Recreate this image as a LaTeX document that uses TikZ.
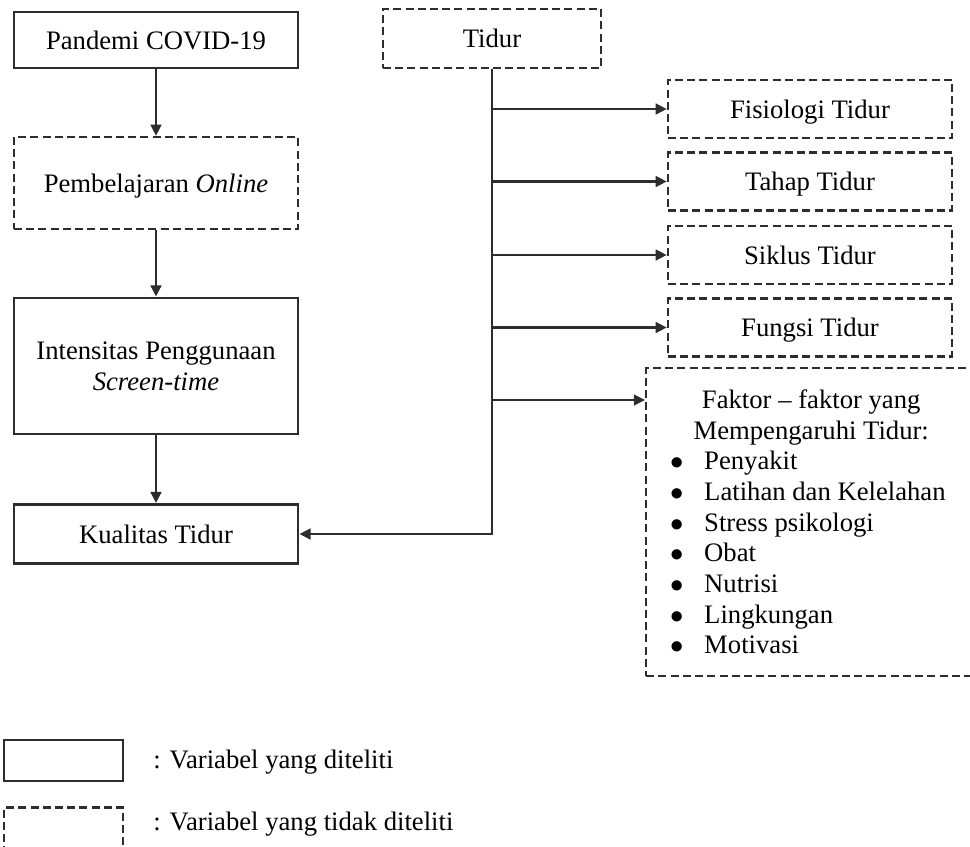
\documentclass[tikz,border=0pt]{standalone}
\usepackage{fontspec}
\setmainfont{Liberation Serif}
\usepackage{tikz}
\usetikzlibrary{arrows.meta, positioning}
\definecolor{linegray}{RGB}{45,45,45}
\newcommand{\unitpx}{0.45pt}
\newcommand{\bulletitem}[1]{\makebox[15.3pt][l]{$\bullet$}#1}

\tikzset{
  solidbox/.style={draw=linegray, line width=1.3pt, align=center, inner sep=0pt},
  dashedbox/.style={draw=linegray, line width=1.1pt, dash pattern=on 3.6pt off 1.9pt, align=center, inner sep=0pt},
  onerow/.style={text depth=0pt},
  arr/.style={draw=linegray, line width=1.1pt, -{Triangle[length=5pt, width=4.8pt]}}
}

\begin{document}
\begin{tikzpicture}[x=\unitpx, y=-\unitpx, font=\fontsize{12}{13.8}\selectfont]
    \useasboundingbox (0,0) rectangle (970,846);

    % Kolom kiri
    \node[solidbox, onerow, minimum width=284*\unitpx, minimum height=56*\unitpx] (pandemi) at (156,40) {Pandemi COVID-19};
    \node[dashedbox, onerow, minimum width=284*\unitpx, minimum height=92*\unitpx] (online) at (156,183) {Pembelajaran \textit{Online}};
    \node[solidbox, minimum width=284*\unitpx, minimum height=136*\unitpx] (intensitas) at (156,366) {Intensitas Penggunaan\\\textit{Screen-time}};
    \node[solidbox, onerow, minimum width=284*\unitpx, minimum height=59*\unitpx] (kualitas) at (156,534) {Kualitas Tidur};
    \draw[arr] (pandemi) -- (online);
    \draw[arr] (online) -- (intensitas);
    \draw[arr] (intensitas) -- (kualitas);

    % Tidur dan cabangnya
    \node[dashedbox, onerow, minimum width=218*\unitpx, minimum height=59*\unitpx] (tidur) at (492,38.5) {Tidur};
    \node[dashedbox, onerow, minimum width=284*\unitpx, minimum height=58*\unitpx] (fisiologi) at (810,109) {Fisiologi Tidur};
    \node[dashedbox, onerow, minimum width=284*\unitpx, minimum height=58*\unitpx] (tahap) at (810,181.5) {Tahap Tidur};
    \node[dashedbox, onerow, minimum width=284*\unitpx, minimum height=58*\unitpx] (siklus) at (810,255) {Siklus Tidur};
    \node[dashedbox, onerow, minimum width=284*\unitpx, minimum height=58*\unitpx] (fungsi) at (810,327.5) {Fungsi Tidur};

    % Faktor (kotak keluar dari tepi kanan)
    \node[dashedbox, anchor=west, minimum height=308*\unitpx, inner xsep=10.8pt] (faktor) at (645,522)
      {\parbox{126.9pt}{\centering Faktor -- faktor yang\\Mempengaruhi Tidur:\par
        \raggedright
        \bulletitem{Penyakit}\\
        \bulletitem{Latihan dan Kelelahan}\\
        \bulletitem{Stress psikologi}\\
        \bulletitem{Obat}\\
        \bulletitem{Nutrisi}\\
        \bulletitem{Lingkungan}\\
        \bulletitem{Motivasi}}};
    \coordinate (faktorin) at (faktor.west |- 0,400);

    \draw[arr] (tidur.south) -- (tidur.south |- kualitas) -- (kualitas.east);
    \draw[arr] (tidur.south |- fisiologi) -- (fisiologi.west);
    \draw[arr] (tidur.south |- tahap) -- (tahap.west);
    \draw[arr] (tidur.south |- siklus) -- (siklus.west);
    \draw[arr] (tidur.south |- fungsi) -- (fungsi.west);
    \draw[arr] (tidur.south |- faktorin) -- (faktorin);

    % Keterangan
    \node[solidbox, minimum width=119*\unitpx, minimum height=41*\unitpx] (legsolid) at (63.5,760.5) {};
    \node[dashedbox, minimum width=119*\unitpx, minimum height=41*\unitpx] (legdashed) at (63.5,828) {};
    \node[anchor=west, inner sep=0pt] (legsolidtext) at (153,762) {: Variabel yang diteliti};
    \node[anchor=west, inner sep=0pt] (legdashedtext) at (153,824) {: Variabel yang tidak diteliti};
\end{tikzpicture}
\end{document}
